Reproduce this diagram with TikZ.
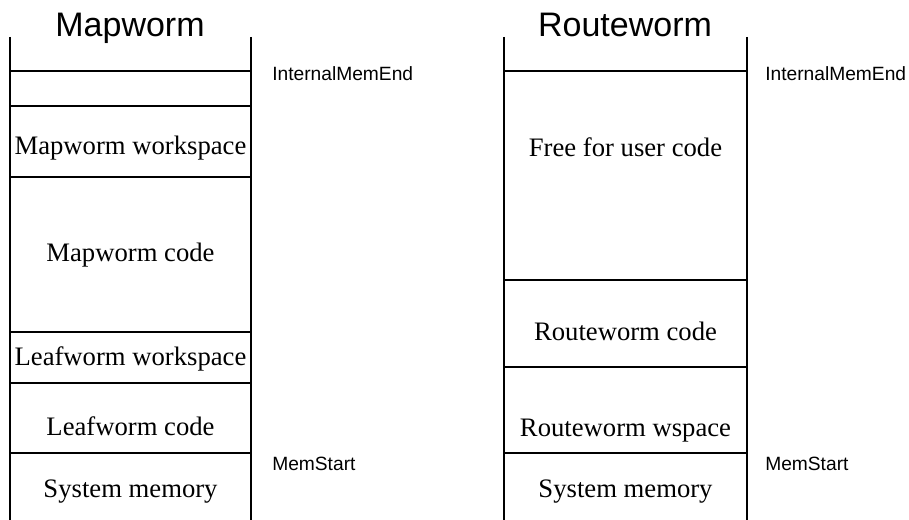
\documentclass[tikz,border=0pt]{standalone}
\usepackage{fontspec}
\setmainfont{Liberation Serif}
\newfontfamily\labelfont{Liberation Sans}
\begin{document}
\begin{tikzpicture}[x=0.75pt,y=-0.75pt,
  memline/.style={line width=1.5pt,black},
  body/.style={anchor=base,inner sep=0pt,font=\fontsize{20pt}{24pt}\selectfont},
  title/.style={anchor=base,inner sep=0pt,font=\labelfont\fontsize{25.5pt}{30pt}\selectfont},
  addr/.style={anchor=base west,inner sep=0pt,font=\labelfont\fontsize{14.4pt}{17pt}\selectfont}]
\useasboundingbox (0,0) rectangle (909,520);
% Mapworm column
\node[title] (t1) at (130,37) {Mapworm};
\draw[memline] (10,37) -- (10,520);
\draw[memline] (251,37) -- (251,520);
\foreach \yy in {71,106,177,332,383,453} \draw[memline] (10,\yy) -- (251,\yy);
\node[body] (mws) at (130.5,155) {Mapworm workspace};
\node[body] (mc) at (130.5,262) {Mapworm code};
\node[body] (lws) at (130.5,365) {Leafworm workspace};
\node[body] (lc) at (130.5,435) {Leafworm code};
\node[body] (sm1) at (130.5,497) {System memory};
\node[addr] (ime1) at (272,81) {InternalMemEnd};
\node[addr] (ms1) at (272,470) {MemStart};
% Routeworm column
\node[title] (t2) at (625,37) {Routeworm};
\draw[memline] (504,37) -- (504,520);
\draw[memline] (747,37) -- (747,520);
\foreach \yy in {71,280,367,453} \draw[memline] (504,\yy) -- (747,\yy);
\node[body] (fu) at (625.5,157) {Free for user code};
\node[body] (rc) at (625.5,340) {Routeworm code};
\node[body] (rws) at (625.5,436) {Routeworm wspace};
\node[body] (sm2) at (625.5,497) {System memory};
\node[addr] (ime2) at (765,81) {InternalMemEnd};
\node[addr] (ms2) at (765,470) {MemStart};
\end{tikzpicture}
\end{document}
